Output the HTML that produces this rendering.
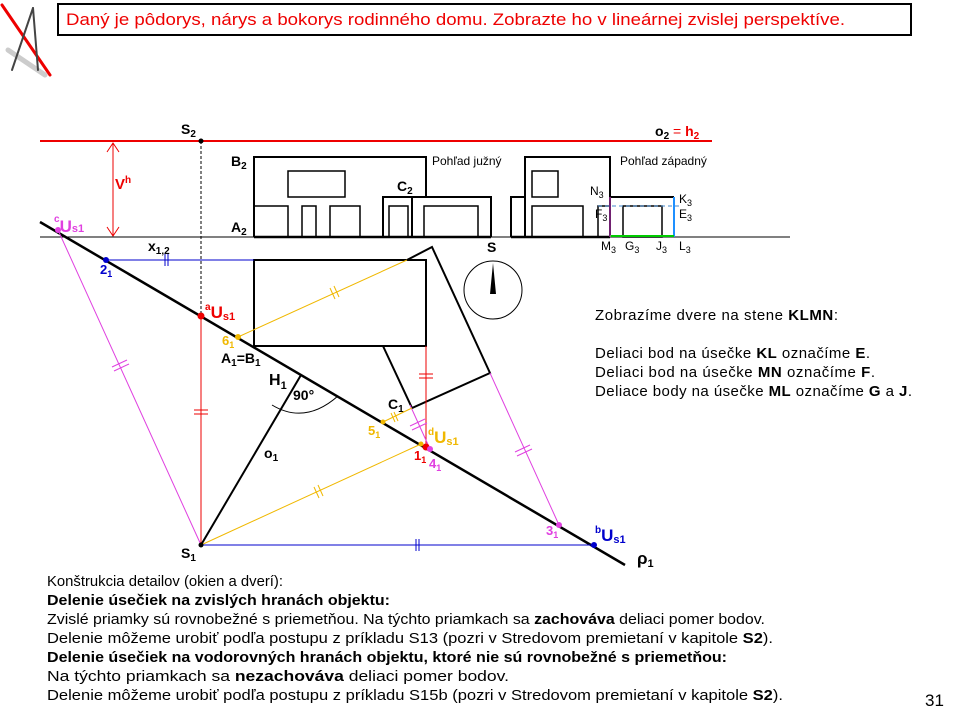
<!DOCTYPE html>
<html><head><meta charset="utf-8"><style>
body{margin:0;width:960px;height:720px;background:#fff;overflow:hidden;font-family:"Liberation Sans",sans-serif}
svg{position:absolute;left:0;top:0}
</style></head><body>
<svg width="960" height="720" viewBox="0 0 960 720" font-family="Liberation Sans, sans-serif">
<!-- logo -->
<g stroke-linecap="round">
<line x1="2" y1="5" x2="50" y2="75" stroke="#e00" stroke-width="3"/>
<line x1="8" y1="50" x2="45" y2="75" stroke="#ccc" stroke-width="5"/>
<line x1="33" y1="8" x2="12" y2="70" stroke="#444" stroke-width="2"/>
<line x1="33" y1="8" x2="38" y2="70" stroke="#444" stroke-width="2"/>
</g>
<rect x="58" y="4" width="853" height="31" fill="#fff" stroke="#000" stroke-width="2"/>
<text x="66" y="25" font-size="17" fill="#e00" textLength="779" lengthAdjust="spacingAndGlyphs">Daný je pôdorys, nárys a bokorys rodinného domu. Zobrazte ho v lineárnej zvislej perspektíve.</text>

<!-- horizon -->
<line x1="40" y1="141" x2="712" y2="141" stroke="#e00" stroke-width="2"/>
<circle cx="201" cy="141" r="2.5"/>
<text x="181" y="134" font-size="14" font-weight="bold">S<tspan font-size="10" dy="3">2</tspan></text>
<text x="655" y="136" font-size="14" font-weight="bold">o<tspan font-size="10" dy="3">2</tspan><tspan dy="-3" fill="#e00" font-weight="normal"> = </tspan><tspan fill="#e00">h</tspan><tspan fill="#e00" font-size="10" dy="3">2</tspan></text>
<line x1="201" y1="141" x2="201" y2="316" stroke="#000" stroke-dasharray="3,2"/>
<!-- vh -->
<g stroke="#e00" fill="none"><line x1="113" y1="143" x2="113" y2="236"/><polyline points="107,152 113,143 119,152"/><polyline points="107,227 113,236 119,227"/></g>
<text x="115" y="189" font-size="15" font-weight="bold" fill="#e00">V<tspan font-size="10" dy="-6">h</tspan></text>
<!-- ground -->
<line x1="40" y1="237" x2="790" y2="237" stroke="#000"/>
<text x="148" y="251" font-size="14" font-weight="bold">x<tspan font-size="10" dy="3">1,2</tspan></text>

<!-- front view -->
<g fill="none" stroke="#000" stroke-width="2">
<polyline points="254,237 254,157 426,157 426,197"/>
<rect x="288" y="171" width="57" height="26" stroke-width="1.5"/>
<polyline points="254,206 288,206 288,237" stroke-width="1.5"/>
<rect x="302" y="206" width="14" height="31" stroke-width="1.5"/>
<rect x="330" y="206" width="30" height="31" stroke-width="1.5"/>
<polyline points="383,237 383,197 491,197 491,237"/>
<line x1="412" y1="197" x2="412" y2="237"/>
<rect x="389" y="206" width="19" height="31" stroke-width="1.5"/>
<rect x="424" y="206" width="54" height="31" stroke-width="1.5"/>
<line x1="254" y1="237" x2="491" y2="237" stroke-width="2.5"/>
</g>
<text x="231" y="166" font-size="14" font-weight="bold">B<tspan font-size="10" dy="3">2</tspan></text>
<text x="231" y="232" font-size="14" font-weight="bold">A<tspan font-size="10" dy="3">2</tspan></text>
<text x="397" y="191" font-size="14" font-weight="bold">C<tspan font-size="10" dy="3">2</tspan></text>
<text x="432" y="165" font-size="12">Pohľad južný</text>

<!-- side view -->
<g fill="none" stroke="#000" stroke-width="2">
<polyline points="511,237 511,197 525,197"/>
<polyline points="525,237 525,157 610,157 610,237"/>
<rect x="532" y="171" width="26" height="26" stroke-width="1.5"/>
<rect x="532" y="206" width="51" height="31" stroke-width="1.5"/>
<polyline points="598,237 598,206 610,206" stroke-width="1.5"/>
<line x1="610" y1="197" x2="674" y2="197"/>
<rect x="623" y="206" width="39" height="31" stroke-width="1.5"/>
<line x1="511" y1="237" x2="610" y2="237" stroke-width="2.5"/>
</g>
<line x1="674" y1="197" x2="674" y2="237" stroke="#1e90ff" stroke-width="2"/>
<line x1="610" y1="236" x2="674" y2="236" stroke="#0c0" stroke-width="2"/>
<line x1="610" y1="197" x2="610" y2="237" stroke="#e040e0" stroke-width="1"/>
<line x1="598" y1="206" x2="680" y2="206" stroke="#48c" stroke-dasharray="4,3"/>
<text x="620" y="165" font-size="12">Pohľad západný</text>
<g font-size="12"><text x="590" y="195">N<tspan font-size="9" dy="3">3</tspan></text>
<text x="595" y="218">F<tspan font-size="9" dy="3">3</tspan></text>
<text x="679" y="203">K<tspan font-size="9" dy="3">3</tspan></text>
<text x="679" y="218">E<tspan font-size="9" dy="3">3</tspan></text>
<text x="601" y="250">M<tspan font-size="9" dy="3">3</tspan></text>
<text x="625" y="250">G<tspan font-size="9" dy="3">3</tspan></text>
<text x="656" y="250">J<tspan font-size="9" dy="3">3</tspan></text>
<text x="679" y="250">L<tspan font-size="9" dy="3">3</tspan></text></g>

<!-- compass -->
<circle cx="493" cy="290" r="29" fill="none" stroke="#000"/>
<polygon points="493,263 490,294 496,294" fill="#000"/>
<text x="487" y="252" font-size="14" font-weight="bold">S</text>

<!-- plan -->
<g fill="none" stroke="#000" stroke-width="2">
<rect x="254" y="260" width="172" height="86"/>
<polyline points="407,260 432,247 490,373 412,408 383,346"/>
<line x1="40" y1="222" x2="625" y2="565" stroke-width="2.5"/>
<line x1="201" y1="545" x2="301" y2="375"/>
</g>
<path d="M272,405 Q305,425 338,396" fill="none" stroke="#000"/>
<text x="293" y="400" font-size="14" font-weight="bold">90°</text>
<text x="269" y="385" font-size="16" font-weight="bold">H<tspan font-size="11" dy="4">1</tspan></text>
<text x="264" y="458" font-size="14" font-weight="bold">o<tspan font-size="10" dy="3">1</tspan></text>
<text x="221" y="363" font-size="14" font-weight="bold">A<tspan font-size="10" dy="3">1</tspan><tspan dy="-3">=B</tspan><tspan font-size="10" dy="3">1</tspan></text>
<text x="388" y="409" font-size="14" font-weight="bold">C<tspan font-size="10" dy="3">1</tspan></text>
<text x="181" y="558" font-size="14" font-weight="bold">S<tspan font-size="10" dy="3">1</tspan></text>
<text x="637" y="564" font-size="17" font-weight="bold">ρ<tspan font-size="11" dy="3">1</tspan></text>

<!-- construction lines -->
<g fill="none" stroke-width="1">
<line x1="201" y1="316" x2="201" y2="545" stroke="#e00"/>
<line x1="194" y1="410" x2="208" y2="410" stroke="#e00"/><line x1="194" y1="414" x2="208" y2="414" stroke="#e00"/>
<line x1="426" y1="346" x2="426" y2="447" stroke="#e00"/>
<line x1="419" y1="374" x2="433" y2="374" stroke="#e00"/><line x1="419" y1="378" x2="433" y2="378" stroke="#e00"/>
<line x1="58" y1="230" x2="201" y2="545" stroke="#e040e0"/>
<line x1="112" y1="367" x2="127" y2="360" stroke="#e040e0"/><line x1="114" y1="371" x2="129" y2="364" stroke="#e040e0"/>
<line x1="430" y1="449" x2="410" y2="405" stroke="#e040e0"/>
<line x1="410" y1="426" x2="425" y2="419" stroke="#e040e0"/><line x1="412" y1="430" x2="427" y2="423" stroke="#e040e0"/>
<line x1="490" y1="373" x2="559" y2="525" stroke="#e040e0"/>
<line x1="515" y1="452" x2="530" y2="445" stroke="#e040e0"/><line x1="517" y1="456" x2="532" y2="449" stroke="#e040e0"/>
<line x1="106" y1="260" x2="254" y2="260" stroke="#00c"/>
<line x1="165" y1="254" x2="165" y2="266" stroke="#00c"/><line x1="168" y1="254" x2="168" y2="266" stroke="#00c"/>
<line x1="201" y1="545" x2="594" y2="545" stroke="#00c"/>
<line x1="416" y1="539" x2="416" y2="551" stroke="#00c"/><line x1="419" y1="539" x2="419" y2="551" stroke="#00c"/>
<line x1="238" y1="337" x2="407" y2="260" stroke="#f0b800"/>
<line x1="330" y1="288" x2="335" y2="299" stroke="#f0b800"/><line x1="334" y1="286" x2="339" y2="297" stroke="#f0b800"/>
<line x1="201" y1="545" x2="421" y2="444" stroke="#f0b800"/>
<line x1="314" y1="487" x2="319" y2="498" stroke="#f0b800"/><line x1="318" y1="485" x2="323" y2="496" stroke="#f0b800"/>
<line x1="383" y1="422" x2="412" y2="408" stroke="#f0b800"/>
<line x1="391" y1="413" x2="395" y2="422" stroke="#f0b800"/><line x1="394" y1="412" x2="398" y2="421" stroke="#f0b800"/>
</g>
<circle cx="201" cy="545" r="2.5"/>
<circle cx="201" cy="316" r="3.5" fill="#e00"/>
<circle cx="58" cy="230" r="3" fill="#e040e0"/>
<circle cx="106" cy="260" r="3" fill="#00c"/>
<circle cx="238" cy="337" r="3" fill="#f0b800"/>
<circle cx="383" cy="422" r="2.5" fill="#f0b800"/>
<circle cx="421" cy="444" r="2.5" fill="#f0b800"/>
<circle cx="426" cy="447" r="3.5" fill="#e00"/>
<circle cx="430" cy="449" r="3" fill="#e040e0"/>
<circle cx="559" cy="525" r="3" fill="#e040e0"/>
<circle cx="594" cy="545" r="3" fill="#00c"/>

<text x="54" y="222" font-size="10" font-weight="bold" fill="#e040e0">c<tspan font-size="17" dy="10">U</tspan><tspan font-size="11" dy="0">s1</tspan></text>
<text x="100" y="274" font-size="13" font-weight="bold" fill="#00c">2<tspan font-size="9" dy="3">1</tspan></text>
<text x="205" y="310" font-size="10" font-weight="bold" fill="#e00">a<tspan font-size="17" dy="8">U</tspan><tspan font-size="11" dy="2">s1</tspan></text>
<text x="222" y="345" font-size="13" font-weight="bold" fill="#f0b800">6<tspan font-size="9" dy="3">1</tspan></text>
<text x="368" y="435" font-size="13" font-weight="bold" fill="#f0b800">5<tspan font-size="9" dy="3">1</tspan></text>
<text x="428" y="435" font-size="10" font-weight="bold" fill="#f0b800">d<tspan font-size="17" dy="8">U</tspan><tspan font-size="11" dy="2">s1</tspan></text>
<text x="414" y="460" font-size="13" font-weight="bold" fill="#e00">1<tspan font-size="9" dy="3">1</tspan></text>
<text x="429" y="468" font-size="13" font-weight="bold" fill="#e040e0">4<tspan font-size="9" dy="3">1</tspan></text>
<text x="546" y="535" font-size="13" font-weight="bold" fill="#e040e0">3<tspan font-size="9" dy="3">1</tspan></text>
<text x="595" y="533" font-size="10" font-weight="bold" fill="#00c">b<tspan font-size="17" dy="8">U</tspan><tspan font-size="11" dy="2">s1</tspan></text>

<!-- right text -->
<g font-size="15" lengthAdjust="spacingAndGlyphs">
<text x="595" y="320" textLength="243">Zobrazíme  dvere na stene <tspan font-weight="bold">KLMN</tspan>:</text>
<text x="595" y="358" textLength="275">Deliaci bod na úsečke <tspan font-weight="bold">KL</tspan> označíme  <tspan font-weight="bold">E</tspan>.</text>
<text x="595" y="377" textLength="280">Deliaci bod na úsečke <tspan font-weight="bold">MN</tspan> označíme <tspan font-weight="bold">F</tspan>.</text>
<text x="595" y="396" textLength="317">Deliace body na úsečke <tspan font-weight="bold">ML</tspan> označíme  <tspan font-weight="bold">G</tspan> a <tspan font-weight="bold">J</tspan>.</text>
</g>
<!-- bottom text -->
<g font-size="15">
<text x="47" y="586" textLength="236" lengthAdjust="spacingAndGlyphs">Konštrukcia  detailov (okien a dverí):</text>
<text x="47" y="605" font-weight="bold" textLength="343" lengthAdjust="spacingAndGlyphs">Delenie úsečiek na zvislých hranách objektu:</text>
<text x="47" y="624" textLength="718" lengthAdjust="spacingAndGlyphs">Zvislé priamky sú rovnobežné  s priemetňou.  Na týchto  priamkach sa <tspan font-weight="bold">zachováva</tspan> deliaci pomer bodov.</text>
<text x="47" y="643" textLength="726" lengthAdjust="spacingAndGlyphs">Delenie môžeme urobiť podľa postupu z príkladu  S13 (pozri v Stredovom premietaní v kapitole <tspan font-weight="bold">S2</tspan>).</text>
<text x="47" y="662" font-weight="bold" textLength="680" lengthAdjust="spacingAndGlyphs">Delenie úsečiek na vodorovných hranách objektu, ktoré nie sú rovnobežné s priemetňou:</text>
<text x="47" y="681" textLength="462" lengthAdjust="spacingAndGlyphs">Na týchto  priamkach sa <tspan font-weight="bold">nezachováva</tspan> deliaci pomer bodov.</text>
<text x="47" y="700" textLength="736" lengthAdjust="spacingAndGlyphs">Delenie môžeme urobiť podľa postupu z príkladu  S15b (pozri v Stredovom premietaní v kapitole <tspan font-weight="bold">S2</tspan>).</text>
</g>
<text x="925" y="706" font-size="17">31</text>
</svg>
</body></html>
